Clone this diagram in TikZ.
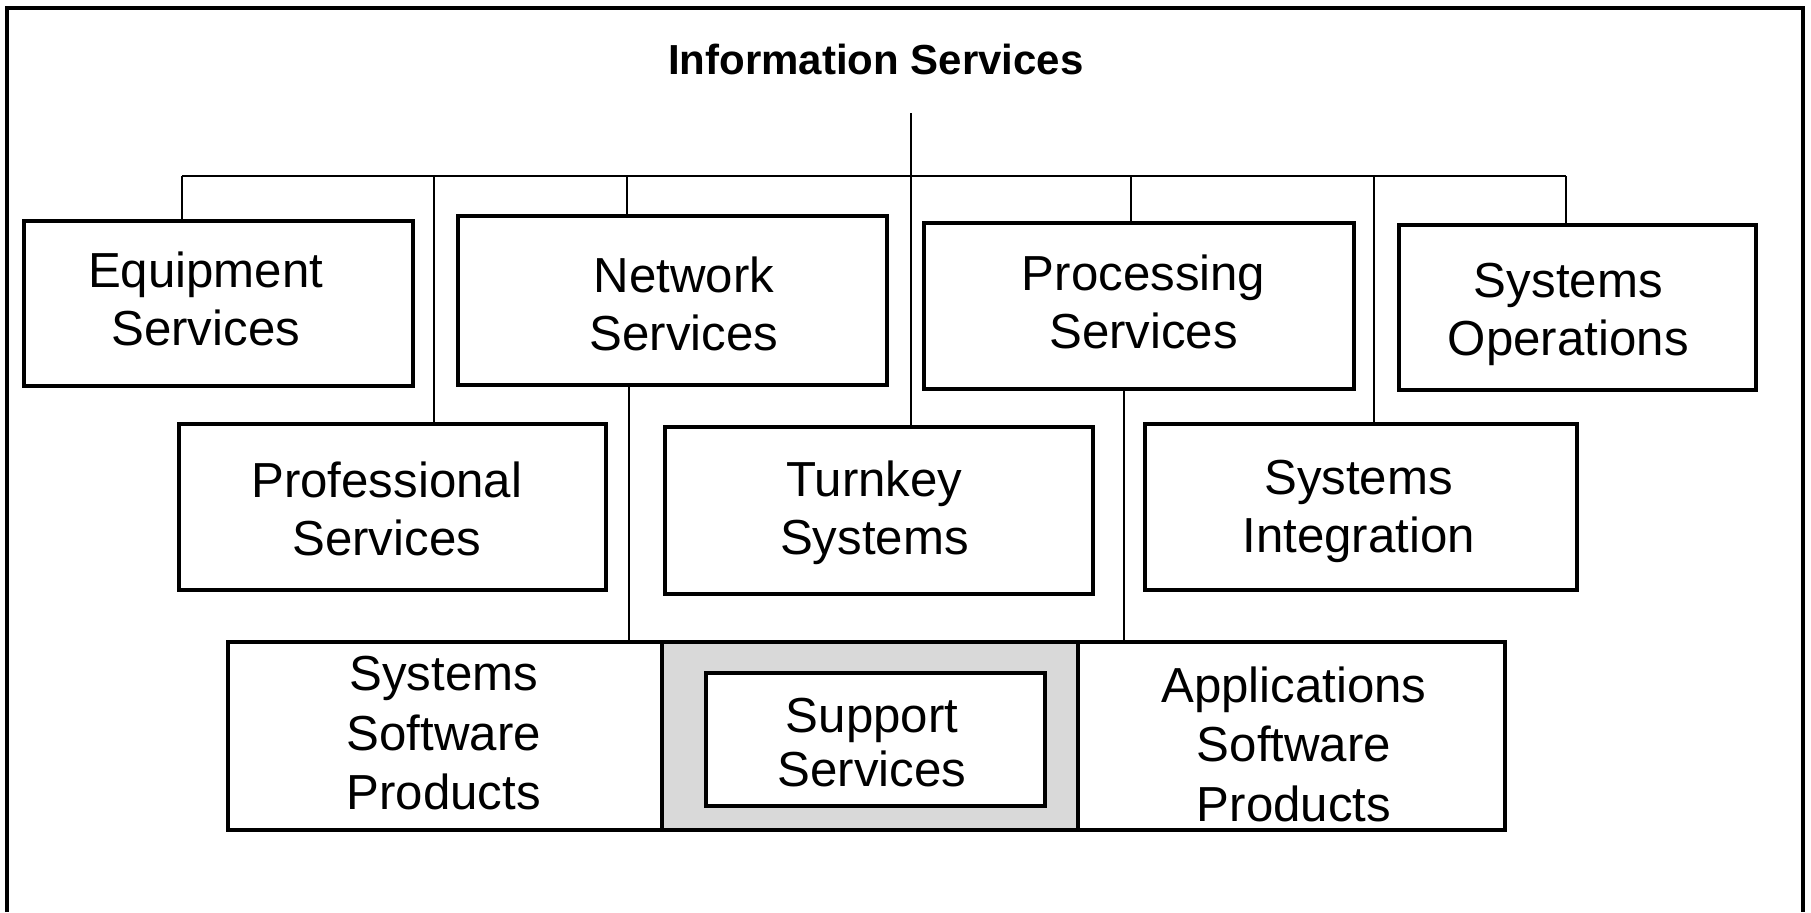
\documentclass[tikz,border=0pt]{standalone}
\usepackage{fontspec}
\setmainfont{Liberation Sans}
\begin{document}
\begin{tikzpicture}[x=0.5pt,y=-0.5pt,
  unit/.style={draw, line width=1.8pt, fill=white, inner sep=0pt},
  lbl/.style={inner sep=0pt, align=center, font=\fontsize{24.6}{29}\selectfont},
  lbl3/.style={lbl, font=\fontsize{24.6}{29.7}\selectfont},
  link/.style={line width=1.4pt},
  frame/.style={line width=1.6pt}]
\useasboundingbox (0,0) rectangle (1811,912);
\fill[white] (0,0) rectangle (1811,912);
\draw[frame] (7,912) -- (7,8) -- (1803,8) -- (1803,912);

\node[font=\fontsize{21}{25}\selectfont\bfseries] (title) at (876,59) {Information Services};

% first row
\node[unit, minimum width=194.5pt, minimum height=82.5pt] (equip) at (218.5,303.5) {};
\node[unit, minimum width=214.5pt, minimum height=84.5pt] (network) at (672.5,300.5) {};
\node[unit, minimum width=215pt, minimum height=83pt] (proc) at (1139,306) {};
\node[unit, minimum width=178.5pt, minimum height=82.5pt] (sysops) at (1577.5,307.5) {};

% second row
\node[unit, minimum width=213.5pt, minimum height=83pt] (prof) at (392.5,507) {};
\node[unit, minimum width=214pt, minimum height=83.5pt] (turnkey) at (879,510.5) {};
\node[unit, minimum width=216pt, minimum height=83pt] (sysint) at (1361,507) {};

% bottom row: two product boxes around the shaded support cell
\node[unit, minimum width=217pt, minimum height=94pt] (syssw) at (445,736) {};
\node[unit, fill=gray!30, minimum width=208pt, minimum height=94pt] (support) at (870,736) {};
\node[unit, minimum width=213.5pt, minimum height=94pt] (appsw) at (1291.5,736) {};
\node[unit, minimum width=169.5pt, minimum height=66.5pt] (inner) at (875.5,739.5) {};

% box texts
\node[lbl] (equipT) at ([xshift=-6.4pt,yshift=2.3pt]equip.center) {Equipment\\Services};
\node[lbl] (networkT) at ([xshift=5.8pt,yshift=-1.7pt]network.center) {Network\\Services};
\node[lbl] (procT) at ([xshift=2.3pt,yshift=2pt]proc.center) {Processing\\Services};
\node[lbl] (sysopsT) at ([xshift=-4.6pt,yshift=-3.5pt]sysops.center) {Systems\\Operations};
\node[lbl] (profT) at ([xshift=-2.9pt,yshift=-0.9pt]prof.center) {Professional\\Services};
\node[lbl] (turnkeyT) at ([xshift=-2.3pt,yshift=-0.9pt]turnkey.center) {Turnkey\\Systems};
\node[lbl] (sysintT) at ([xshift=-1.2pt,yshift=-2.3pt]sysint.center) {Systems\\Integration};
\node[lbl3] (sysswT) at ([xshift=-0.6pt,yshift=1.4pt]syssw.center) {Systems\\Software\\Products};
\node[lbl3] (appswT) at ([xshift=1.2pt,yshift=-4pt]appsw.center) {Applications\\Software\\Products};
\node[lbl, font=\fontsize{24.6}{27}\selectfont] (innerT) at ([xshift=-1.7pt,yshift=-1.4pt]inner.center) {Support\\Services};

% connectors
\coordinate (trunk) at (911,113);
\coordinate (dA) at (182,176);
\coordinate (dB) at (434,176);
\coordinate (dC) at (627,176);
\coordinate (dD) at (1131,176);
\coordinate (dE) at (1374,176);
\coordinate (dF) at (1566,176);

\draw[link] (trunk) -- (trunk |- turnkey.north);
\draw[link] (dA) -- (dF);
\draw[link] (dA) -- (dA |- equip.north);
\draw[link] (dB) -- (dB |- prof.north);
\draw[link] (dC) -- (dC |- network.north);
\draw[link] (dD) -- (dD |- proc.north);
\draw[link] (dE) -- (dE |- sysint.north);
\draw[link] (dF) -- (dF |- sysops.north);
\draw[link] ([xshift=-21.75pt]network.south) -- ([xshift=-21.75pt]network.south |- syssw.north);
\draw[link] ([xshift=-7.5pt]proc.south) -- ([xshift=-7.5pt]proc.south |- appsw.north);
\end{tikzpicture}
\end{document}
